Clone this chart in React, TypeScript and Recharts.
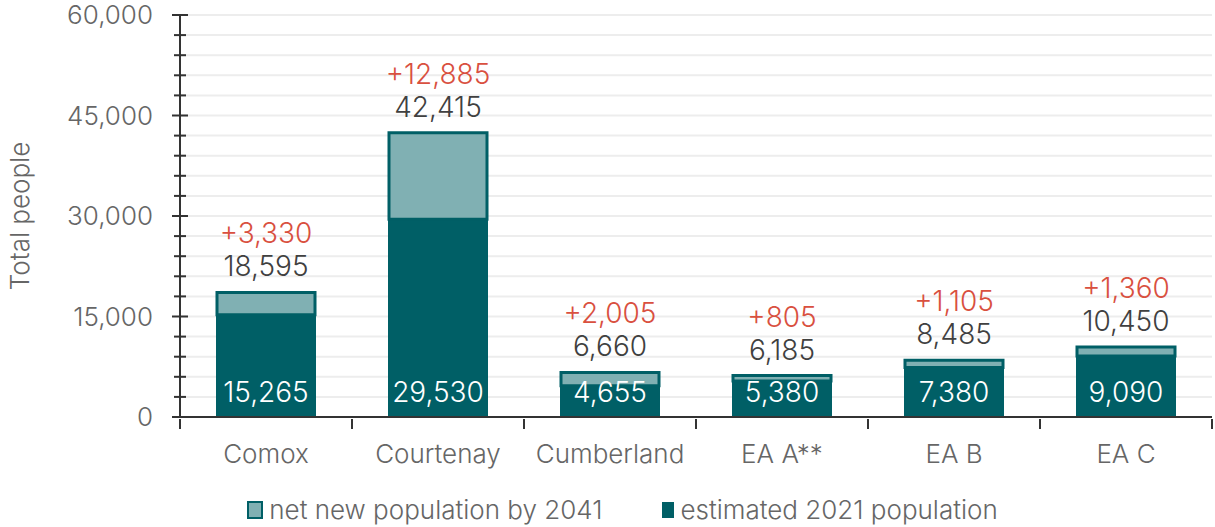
import React from 'react';
import { BarChart, Bar, XAxis, YAxis, CartesianGrid, Legend, LabelList } from 'recharts';

const areas = ['Comox', 'Courtenay', 'Cumberland', 'EA A**', 'EA B', 'EA C'];
const estimated2021 = [15265, 29530, 4655, 5380, 7380, 9090];
const netNew2041 = [3330, 12885, 2005, 805, 1105, 1360];
const yTicks = [0, 3000, 6000, 9000, 12000, 15000, 18000, 21000, 24000, 27000, 30000, 33000, 36000, 39000, 42000, 45000, 48000, 51000, 54000, 57000, 60000];

const data = areas.map((name, i) => ({
  name,
  base: estimated2021[i],
  net: netNew2041[i],
}));

const DARK = '#005f66';
const LIGHT = '#80b0b3';
const RED = '#d9503f';
const FONT = 'Inter, "Liberation Sans", sans-serif';

const fmt = (v: number) => v.toLocaleString('en-US');

const YTick = (props: any) => {
  const { x, y, payload } = props;
  const major = payload.value % 15000 === 0;
  const half = major ? 8 : 6;
  return (
    <g>
      <line x1={x - half} x2={x + half} y1={y} y2={y} stroke="#333" strokeWidth={2} />
      {major && (
        <text x={x - 27} y={y} dy="0.36em" textAnchor="end" fill="#666" fontSize={26} fontFamily={FONT} fontWeight={300}>
          {fmt(payload.value)}
        </text>
      )}
    </g>
  );
};

const XTick = (props: any) => {
  const { x, y, payload, index } = props;
  const half = payload.offset || 86;
  return (
    <g>
      {index === 0 && <line x1={x - half} x2={x - half} y1={y} y2={y + 10} stroke="#333" strokeWidth={2} />}
      <line x1={x + half} x2={x + half} y1={y} y2={y + 10} stroke="#333" strokeWidth={2} />
      <text x={x} y={y + 44} textAnchor="middle" fill="#666" fontSize={26} fontFamily={FONT} fontWeight={300}>
        {payload.value}
      </text>
    </g>
  );
};

const BaseLabel = (props: any) => {
  const { x, y, width, height, value } = props;
  return (
    <text x={x + width / 2} y={y + height - 25} dy="0.36em" textAnchor="middle" fill="#fff" fontSize={28} fontFamily={FONT} fontWeight={300}>
      {fmt(value)}
    </text>
  );
};

const TopLabel = (props: any) => {
  const { x, y, width, index } = props;
  const total = estimated2021[index] + netNew2041[index];
  return (
    <g fontFamily={FONT} fontWeight={300} fontSize={28} textAnchor="middle">
      <text x={x + width / 2} y={y - 59} dy="0.36em" fill={RED}>
        +{fmt(netNew2041[index])}
      </text>
      <text x={x + width / 2} y={y - 26} dy="0.36em" fill="#404040">
        {fmt(total)}
      </text>
    </g>
  );
};

const LegendContent = () => (
  <div style={{ height: 54, display: 'flex', justifyContent: 'center', alignItems: 'flex-end', fontFamily: FONT, fontWeight: 300, fontSize: 26, color: '#666', paddingLeft: 30 }}>
    <div style={{ display: 'flex', alignItems: 'center', marginRight: 60, marginBottom: 2 }}>
      <span style={{ width: 12, height: 14, background: LIGHT, border: `2px solid ${DARK}`, marginRight: 6, display: 'inline-block' }} />
      net new population by 2041
    </div>
    <div style={{ display: 'flex', alignItems: 'center', marginBottom: 2 }}>
      <span style={{ width: 12, height: 16, background: DARK, marginRight: 6, display: 'inline-block' }} />
      estimated 2021 population
    </div>
  </div>
);

export default function App() {
  return (
    <div style={{ position: 'absolute', left: 0, top: 0 }}>
      <BarChart width={1215} height={527} data={data} margin={{ top: 15, right: 3, left: 0, bottom: 0 }}>
        <CartesianGrid horizontal vertical={false} stroke="#ededed" strokeWidth={2} />
        <XAxis
          dataKey="name"
          height={56}
          axisLine={{ stroke: '#333', strokeWidth: 2 }}
          tickLine={false}
          tickSize={0}
          tick={<XTick />}
          interval={0}
        />
        <YAxis
          width={180}
          domain={[0, 60000]}
          ticks={yTicks}
          interval={0}
          axisLine={{ stroke: '#333', strokeWidth: 2 }}
          tickLine={false}
          tickSize={0}
          tickMargin={0}
          tick={<YTick />}
          label={{ value: 'Total people', angle: -90, position: 'insideLeft', offset: 20, fill: '#666', fontSize: 26, fontFamily: FONT, fontWeight: 300, style: { textAnchor: 'middle' } }}
        />
        <Legend verticalAlign="bottom" content={<LegendContent />} wrapperStyle={{ left: 0, width: 1215 }} />
        <Bar dataKey="base" stackId="a" fill={DARK} stroke={DARK} strokeWidth={2} barSize={98} isAnimationActive={false}>
          <LabelList dataKey="base" content={<BaseLabel />} />
        </Bar>
        <Bar dataKey="net" stackId="a" fill={LIGHT} stroke={DARK} strokeWidth={3} barSize={98} isAnimationActive={false}>
          <LabelList dataKey="net" content={<TopLabel />} />
        </Bar>
      </BarChart>
    </div>
  );
}
